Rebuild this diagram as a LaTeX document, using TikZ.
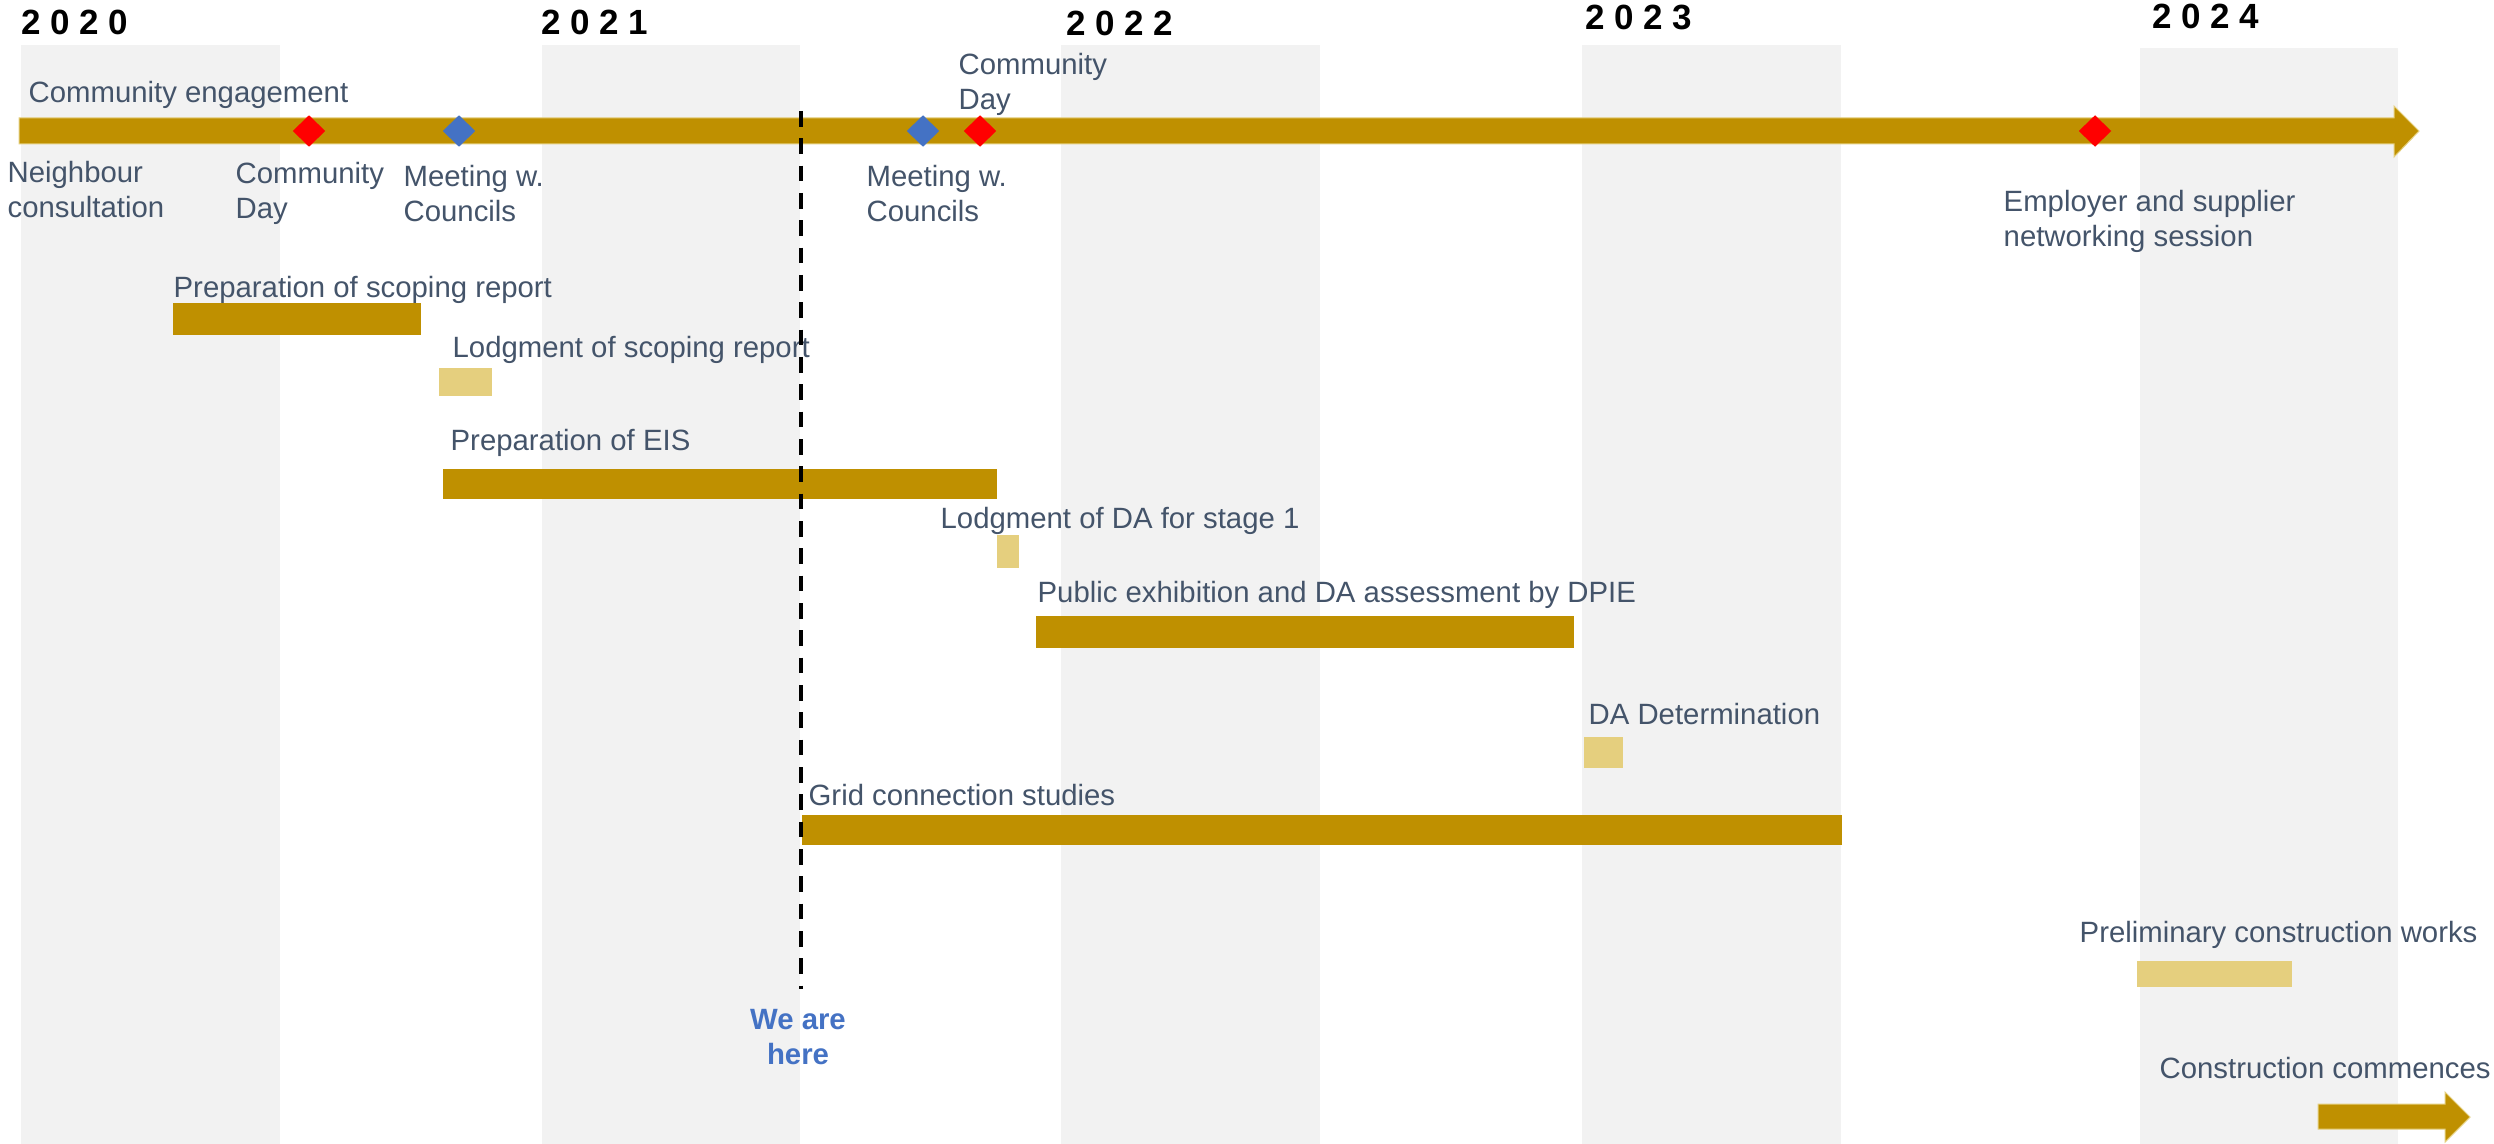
\documentclass[tikz,border=0pt]{standalone}
\usepackage{fontspec}
\setmainfont{Liberation Sans}
\usetikzlibrary{shapes.geometric}
\definecolor{gold}{HTML}{BF9000}
\definecolor{goldlt}{HTML}{E5CF7E}
\definecolor{bandgray}{HTML}{F2F2F2}
\definecolor{txt}{HTML}{44546A}
\definecolor{mred}{HTML}{FF0000}
\definecolor{mblue}{HTML}{4472C4}
\newcommand{\yrgap}{\kern2.8pt}
\begin{document}
\begin{tikzpicture}[x=0.3pt,y=-0.3pt,
  lbl/.style={inner sep=0pt, text=txt, font=\fontsize{8.8pt}{10.35pt}\selectfont, anchor=base west},
  lbltwo/.style={lbl, align=left, anchor=north west},
  yr/.style={inner sep=0pt, font=\fontsize{10.5pt}{12pt}\selectfont\bfseries, anchor=base west},
  bandbox/.style={fill=bandgray},
  goldbar/.style={fill=gold},
  ltbar/.style={fill=goldlt},
  msdiam/.style={shape=diamond, inner sep=0pt, minimum width=9.9pt, minimum height=9.6pt},
  dashline/.style={line width=1.2pt, dash pattern=on 4.7pt off 3.5pt},
  herelbl/.style={inner sep=0pt, text=mblue, font=\fontsize{8.8pt}{10.5pt}\selectfont\bfseries, align=center, anchor=north}
]
\useasboundingbox (0,0) rectangle (2494,1144);
\fill[white] (0,0) rectangle (2494,1144);
% year bands
\path[bandbox] (21,45) rectangle (280,1144);
\path[bandbox] (542,45) rectangle (800,1144);
\path[bandbox] (1061,45) rectangle (1320,1144);
\path[bandbox] (1582,45) rectangle (1841,1144);
\path[bandbox] (2140,48) rectangle (2398,1144);
% years
\node[yr] (y2020) at (21,35) {2\yrgap0\yrgap2\yrgap0};
\node[yr] (y2021) at (541,35) {2\yrgap0\yrgap2\yrgap1};
\node[yr] (y2022) at (1066,36) {2\yrgap0\yrgap2\yrgap2};
\node[yr] (y2023) at (1585,30) {2\yrgap0\yrgap2\yrgap3};
\node[yr] (y2024) at (2152,29) {2\yrgap0\yrgap2\yrgap4};
% main community engagement arrow
\path[goldbar, draw=goldlt, line width=0.3pt] (19,118) -- (2394,118) -- (2394,106) -- (2419,131) -- (2394,157) -- (2394,144) -- (19,144) -- cycle;
\node[msdiam, fill=mred] (cd1) at (309,131) {};
\node[msdiam, fill=mblue] (mc1) at (459,131) {};
\node[msdiam, fill=mblue] (mc2) at (923,131) {};
\node[msdiam, fill=mred] (cd2) at (980,131) {};
\node[msdiam, fill=mred] (es) at (2095,131) {};
\node[lbl] (ce) at (28,103) {Community engagement};
\node[lbltwo] (nc) at (7,161) {Neighbour\\consultation};
\node[lbltwo] (cdl1) at (235,162) {Community\\Day};
\node[lbltwo] (mcl1) at (403,165) {Meeting w.\\Councils};
\node[lbltwo] (cdl2) at (958,53) {Community\\Day};
\node[lbltwo] (mcl2) at (866,165) {Meeting w.\\Councils};
\node[lbltwo] (esl) at (2003,190) {Employer and supplier\\networking session};
% tasks
\node[lbl] (t1) at (173,297) {Preparation of scoping report};
\path[goldbar] (173,303) rectangle (421,335);
\node[lbl] (t2) at (452,357) {Lodgment of scoping report};
\path[ltbar] (439,368) rectangle (492,396);
\node[lbl] (t3) at (450,450) {Preparation of EIS};
\path[goldbar] (443,469) rectangle (997,499);
\node[lbl] (t4) at (940,528) {Lodgment of DA for stage 1};
\path[ltbar] (997,535) rectangle (1019,568);
\node[lbl] (t5) at (1037,602) {Public exhibition and DA assessment by DPIE};
\path[goldbar] (1036,616) rectangle (1574,648);
\node[lbl] (t6) at (1588,724) {DA Determination};
\path[ltbar] (1584,737) rectangle (1623,768);
\node[lbl] (t7) at (808,805) {Grid connection studies};
\path[goldbar] (802,815) rectangle (1842,845);
\node[lbl] (t8) at (2079,942) {Preliminary construction works};
\path[ltbar] (2137,961) rectangle (2292,987);
\node[lbl] (t9) at (2159,1078) {Construction commences};
\path[goldbar, draw=goldlt, line width=0.3pt] (2318,1104) -- (2445,1104) -- (2445,1092) -- (2470,1117) -- (2445,1142) -- (2445,1129) -- (2318,1129) -- cycle;
% we are here
\node[herelbl] (here) at (798,1009) {We are\\here};
\coordinate (dtop) at (801,111);
\coordinate (dbot) at (801,989);
\draw[dashline] (dtop) -- (dbot);
\end{tikzpicture}
\end{document}
